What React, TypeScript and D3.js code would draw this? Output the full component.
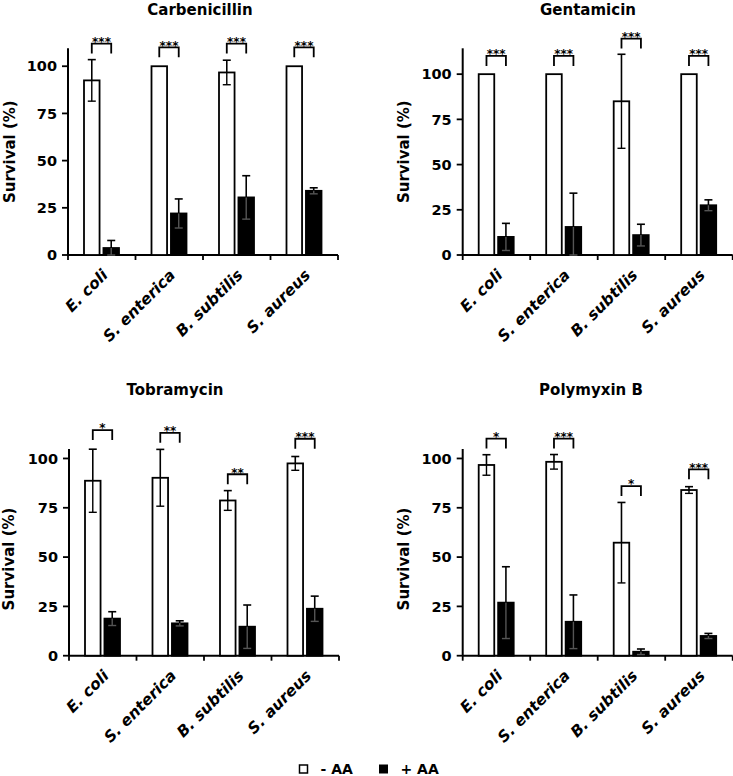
import React from "react";
import * as d3 from "d3";

const categories = ["E. coli", "S. enterica", "B. subtilis", "S. aureus"];
const series = ["- AA", "+ AA"];
const antibiotics = ["Carbenicillin", "Gentamicin", "Tobramycin", "Polymyxin B"];
const yTicks = [0, 25, 50, 75, 100];
const yMaxes = [109.5, 114.3, 104.8, 104.8];

const carbMinus = [92.5, 100, 96.7, 100];
const carbMinusErr = [11, 0, 6.5, 0];
const carbPlus = [3.7, 22, 30.5, 34];
const carbPlusErr = [4, 7.7, 11.5, 1.6];
const carbBracket = [112, 110, 112, 110];
const carbStars = ["***", "***", "***", "***"];

const gentMinus = [100, 100, 85, 100];
const gentMinusErr = [0, 0, 26, 0];
const gentPlus = [10, 15.5, 11, 27.5];
const gentPlusErr = [7.5, 18.7, 6, 3];
const gentBracket = [110.1, 110.1, 119.7, 110.1];
const gentStars = ["***", "***", "***", "***"];

const tobMinus = [88.7, 90.2, 78.7, 97.5];
const tobMinusErr = [16, 14.4, 5, 3.5];
const tobPlus = [18.8, 16.4, 14.7, 23.8];
const tobPlusErr = [3.5, 1.3, 11, 6.4];
const tobBracket = [114.4, 113, 92, 110];
const tobStars = ["*", "**", "**", "***"];

const polyMinus = [96.7, 98.3, 57.3, 84];
const polyMinusErr = [5.2, 3.7, 20.4, 1.7];
const polyPlus = [26.9, 17.2, 2, 10];
const polyPlusErr = [18.2, 13.6, 1.4, 1.3];
const polyBracket = [110.1, 110.1, 86, 94.5];
const polyStars = ["*", "***", "*", "***"];

const panelData = [
  { minus: carbMinus, minusErr: carbMinusErr, plus: carbPlus, plusErr: carbPlusErr, bracket: carbBracket, stars: carbStars },
  { minus: gentMinus, minusErr: gentMinusErr, plus: gentPlus, plusErr: gentPlusErr, bracket: gentBracket, stars: gentStars },
  { minus: tobMinus, minusErr: tobMinusErr, plus: tobPlus, plusErr: tobPlusErr, bracket: tobBracket, stars: tobStars },
  { minus: polyMinus, minusErr: polyMinusErr, plus: polyPlus, plusErr: polyPlusErr, bracket: polyBracket, stars: polyStars },
];

const layouts = [
  { x: 68, top: 48.3, bottom: 255, titleX: 200, titleY: 15, labelX: 9.5, labelY: 151.7 },
  { x: 462.7, top: 48.3, bottom: 255, titleX: 588, titleY: 15, labelX: 404.3, labelY: 151.7 },
  { x: 69, top: 449, bottom: 655.7, titleX: 175, titleY: 395, labelX: 9.3, labelY: 559 },
  { x: 462.7, top: 449, bottom: 655.7, titleX: 591, titleY: 395, labelX: 404.3, labelY: 559 },
];

const FONT = "'DejaVu Sans', sans-serif";
const PLOT_W = 270;

function Panel({ idx }: { idx: number }) {
  const L = layouts[idx];
  const D = panelData[idx];
  const y = d3.scaleLinear().domain([0, yMaxes[idx]]).range([L.bottom, L.top]);
  const x0 = d3.scaleBand<string>().domain(categories).range([L.x, L.x + PLOT_W]).padding(0);
  const x1 = d3.scaleBand<string>().domain(series).range([16, 51]).paddingInner(0.2);
  const bw = x1.bandwidth();
  const boundaries = [...categories.map((c) => x0(c) as number), L.x + PLOT_W];
  const sw = 1.8;

  return (
    <g>
      <text x={L.titleX} y={L.titleY} textAnchor="middle" fontFamily={FONT} fontWeight="bold" fontSize={15}>
        {antibiotics[idx]}
      </text>
      <text
        transform={`translate(${L.labelX},${L.labelY}) rotate(-90)`}
        textAnchor="middle"
        dominantBaseline="central"
        fontFamily={FONT}
        fontWeight="bold"
        fontSize={15}
      >
        Survival (%)
      </text>
      {/* y axis */}
      <line x1={L.x} x2={L.x} y1={y(yMaxes[idx])} y2={L.bottom} stroke="#000" strokeWidth={2} />
      {yTicks.map((t) => (
        <g key={t}>
          <line x1={L.x - 6} x2={L.x} y1={y(t)} y2={y(t)} stroke="#000" strokeWidth={1.8} />
          <text x={L.x - 11} y={y(t)} dy="0.36em" textAnchor="end" fontFamily={FONT} fontWeight="bold" fontSize={14.5}>
            {t}
          </text>
        </g>
      ))}
      {/* x axis */}
      <line x1={L.x} x2={L.x + PLOT_W} y1={L.bottom} y2={L.bottom} stroke="#000" strokeWidth={2} />
      {boundaries.map((bx, i) => (
        <line key={i} x1={bx} x2={bx} y1={L.bottom} y2={L.bottom + 5} stroke="#000" strokeWidth={1.8} />
      ))}
      {categories.map((c) => {
        const cx = (x0(c) as number) + x0.bandwidth() / 2;
        return (
          <text
            key={c}
            transform={`translate(${cx + 7},${L.bottom + 21}) rotate(-45)`}
            textAnchor="end"
            fontFamily={FONT}
            fontWeight="bold"
            fontStyle="italic"
            fontSize={15.5}
          >
            {c}
          </text>
        );
      })}
      {/* bars */}
      {categories.map((c, i) => {
        const bx = x0(c) as number;
        const wx = bx + (x1("- AA") as number);
        const kx = bx + (x1("+ AA") as number);
        const vals = [
          { sx: wx, v: D.minus[i], e: D.minusErr[i], fill: "#fff", inner: "#000" },
          { sx: kx, v: D.plus[i], e: D.plusErr[i], fill: "#000", inner: "#555" },
        ];
        const by = y(D.bracket[i]);
        const wc = wx + bw / 2;
        const kc = kx + bw / 2;
        return (
          <g key={c}>
            {vals.map((b, j) => {
              const top = y(b.v);
              const cx = b.sx + bw / 2;
              return (
                <g key={j}>
                  <rect x={b.sx} y={top} width={bw} height={L.bottom - top} fill={b.fill} stroke="#000" strokeWidth={sw} />
                  {b.e > 0 && (
                    <g>
                      <line x1={cx} x2={cx} y1={y(b.v + b.e)} y2={top} stroke="#000" strokeWidth={1.6} />
                      <line x1={cx - 4} x2={cx + 4} y1={y(b.v + b.e)} y2={y(b.v + b.e)} stroke="#000" strokeWidth={1.6} />
                      <line x1={cx} x2={cx} y1={top} y2={y(Math.max(0, b.v - b.e))} stroke={b.inner} strokeWidth={1.4} />
                      <line x1={cx - 4} x2={cx + 4} y1={y(Math.max(0, b.v - b.e))} y2={y(Math.max(0, b.v - b.e))} stroke={b.inner} strokeWidth={1.4} />
                    </g>
                  )}
                </g>
              );
            })}
            <path d={`M${wc},${by + 10}V${by}H${kc}V${by + 10}`} fill="none" stroke="#000" strokeWidth={1.8} />
            <text x={(wc + kc) / 2} y={by + 2.4} textAnchor="middle" fontFamily={FONT} fontWeight="bold" fontSize={12}>
              {D.stars[i]}
            </text>
          </g>
        );
      })}
    </g>
  );
}

export default function App() {
  return (
    <svg width={733} height={776} style={{ position: "absolute", left: 0, top: 0, background: "#fff" }}>
      <rect width={733} height={776} fill="#fff" />
      {antibiotics.map((a, i) => (
        <Panel key={a} idx={i} />
      ))}
      <g>
        <rect x={299.5} y={765} width={8} height={8} fill="#fff" stroke="#000" strokeWidth={1.5} />
        <text x={320.5} y={773.5} fontFamily={FONT} fontWeight="bold" fontSize={14}>
          {series[0]}
        </text>
        <rect x={379} y={764.5} width={9} height={9} fill="#000" />
        <text x={400.5} y={773.5} fontFamily={FONT} fontWeight="bold" fontSize={14}>
          {series[1]}
        </text>
      </g>
    </svg>
  );
}
